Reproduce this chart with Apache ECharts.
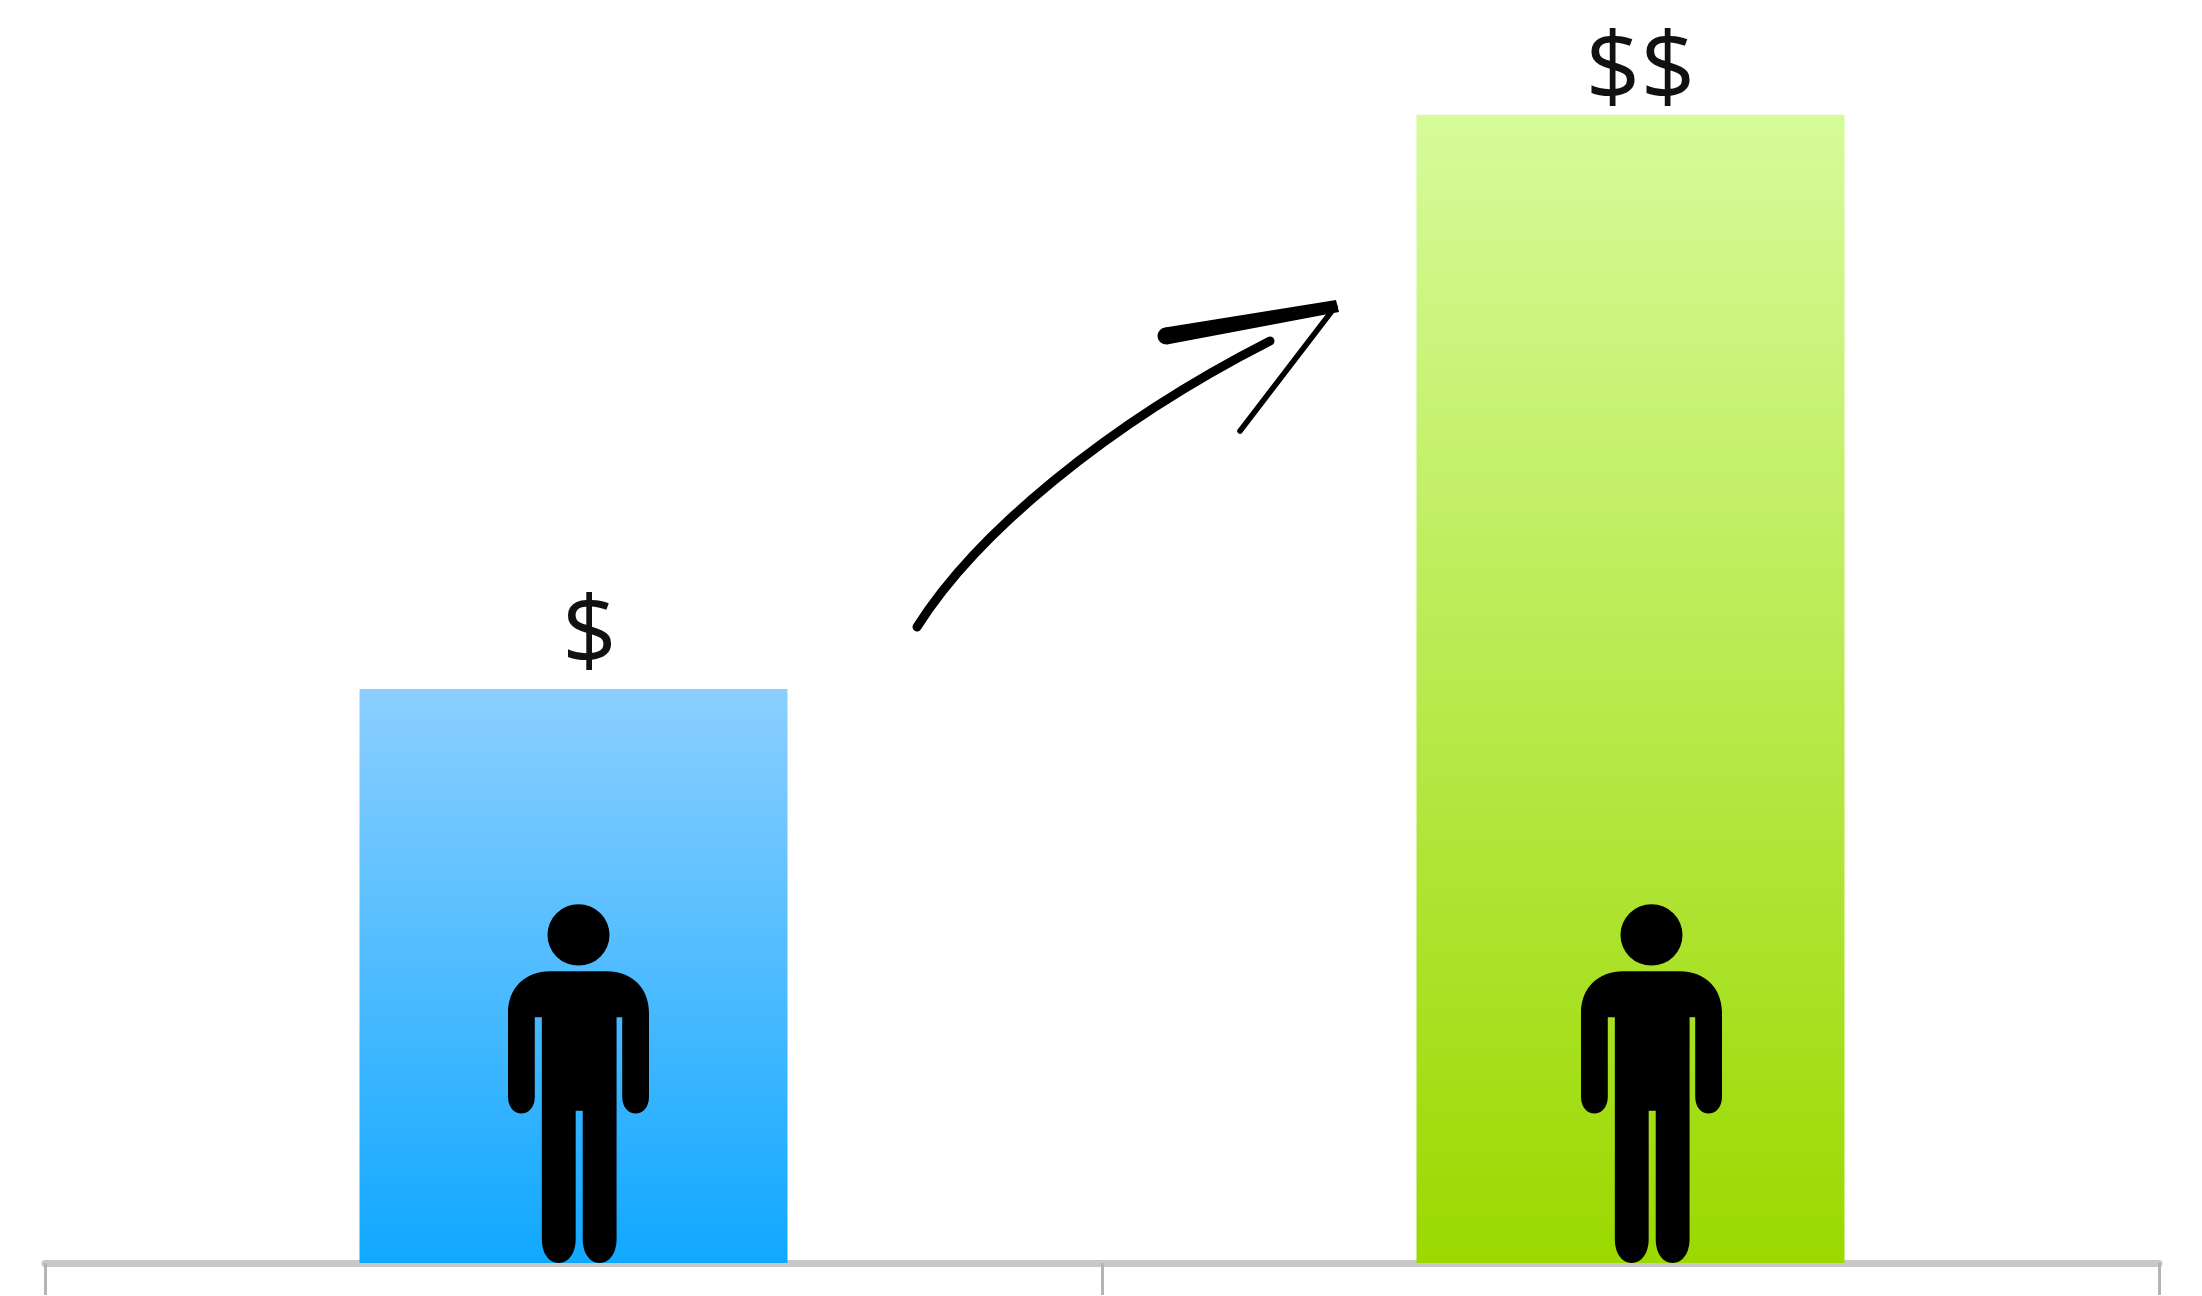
<!DOCTYPE html>
<html>
<head>
<meta charset="utf-8">
<style>html,body{margin:0;padding:0;background:#fff}#chart{width:2202px;height:1296px}</style>
<script src="https://cdn.jsdelivr.net/npm/echarts@6/dist/echarts.min.js"></script>
</head>
<body>
<div id="chart"></div>
<script>
// Earnings before and after: the same person, twice the pay.
const categories = ['Before', 'After'];
const payValues = [1, 2];
const payLabels = ['$', '$$'];
const figureHeights = [0.625, 0.625];

const barTones = [
  ['#8ccfff', '#10a8ff'],
  ['#d6fb9a', '#9bd900']
];
const labelShift = [[16, 0], [10, 10]];
const figureShift = [5, 21];

// Standing figure, drawn on a 100 x 257 box
const figurePath = 'path://M50 0A22 22 0 1 1 50 44A22 22 0 1 1 50 0Z' +
  'M30 48L70 48C88 48 100 60 100 78L100 138C100 154 81 154 81 138L81 81L77 81L77 240' +
  'C77 250 72 257 65 257C58 257 53 250 53 240L53 148L48 148L48 240' +
  'C48 250 43 257 36 257C29 257 24 250 24 240L24 81L19 81L19 138C19 154 0 154 0 138L0 78C0 60 12 48 30 48Z';

const chart = echarts.init(document.getElementById('chart'), null, { renderer: 'canvas' });

chart.setOption({
  animation: false,
  backgroundColor: '#ffffff',
  grid: { left: 45, top: 0, width: 2114, height: 1263, containLabel: false },
  xAxis: {
    type: 'category',
    data: categories,
    axisLine: { show: true, lineStyle: { color: '#c8c8c8', width: 7 } },
    axisTick: { show: true, alignWithLabel: false, length: 32, lineStyle: { color: '#b4b4b4', width: 3 } },
    axisLabel: { show: false },
    splitLine: { show: false }
  },
  yAxis: {
    type: 'value',
    min: 0,
    max: 2.2,
    show: false,
    splitLine: { show: false }
  },
  series: [
    {
      type: 'bar',
      barWidth: 428,
      data: payValues.map((value, i) => ({
        value,
        itemStyle: {
          color: {
            type: 'linear', x: 0, y: 0, x2: 0, y2: 1,
            colorStops: [
              { offset: 0, color: barTones[i][0] },
              { offset: 1, color: barTones[i][1] }
            ]
          }
        },
        label: {
          show: true,
          position: 'top',
          distance: 2,
          offset: labelShift[i],
          formatter: payLabels[i],
          fontFamily: 'Open Sans',
          fontSize: 96,
          color: '#111111',
          lineHeight: 100
        }
      }))
    },
    {
      type: 'pictorialBar',
      z: 5,
      symbol: figurePath,
      symbolPosition: 'start',
      symbolSize: [141, '100%'],
      itemStyle: { color: '#000000' },
      data: figureHeights.map((value, i) => ({ value, symbolOffset: [figureShift[i], 0] }))
    }
  ],
  // Hand-drawn arrow rising from the first bar towards the second
  graphic: [
    {
      type: 'bezierCurve',
      z: 10,
      shape: { x1: 917, y1: 627, cpx1: 975, cpy1: 535, cpx2: 1105, cpy2: 425, x2: 1270, y2: 341 },
      style: { stroke: '#000000', fill: 'none', lineWidth: 9, lineCap: 'round' }
    },
    {
      type: 'circle',
      z: 10,
      shape: { cx: 1166, cy: 336, r: 8.5 },
      style: { fill: '#000000' }
    },
    {
      type: 'polygon',
      z: 10,
      shape: { points: [[1165, 327.5], [1336, 300], [1339, 312], [1167, 344.5]] },
      style: { fill: '#000000' }
    },
    {
      type: 'line',
      z: 10,
      shape: { x1: 1335, y1: 307, x2: 1240, y2: 431 },
      style: { stroke: '#000000', lineWidth: 5.5, lineCap: 'round' }
    }
  ]
});
</script>
</body>
</html>
